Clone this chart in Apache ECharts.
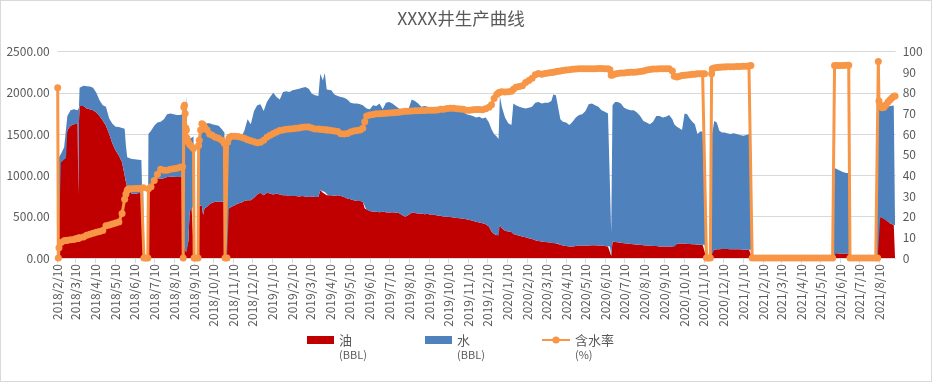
<!DOCTYPE html>
<html>
<head>
<meta charset="utf-8">
<script src="https://cdn.jsdelivr.net/npm/echarts@6/dist/echarts.min.js"></script>
<style>
html,body{margin:0;padding:0;background:#fff;}
#wrap{position:absolute;left:0;top:0;width:930px;height:380px;border:1px solid #d9d9d9;background:#fff;}
#chart{width:930px;height:380px;}
</style>
</head>
<body>
<div id="wrap"><div id="chart"></div></div>
<script>
// ---------------- data ----------------
const chartTitle = 'XXXX井生产曲线';
const seriesNames = ['油', '水', '含水率'];
const seriesUnits = ['(BBL)', '(BBL)', '(%)'];

// days after 2018/2/10
const days = [
  0,1,2,5,10,13,15,20,25,28,
  31,32,33,34,40,45,50,55,60,65,
  70,75,80,85,90,95,100,104,106,108,
  110,115,120,125,130,133,134,137,140,141,
  145,150,155,160,165,170,175,180,185,190,
  194,195,196,197,198,199,200,201,203,205,
  208,211,212,215,218,219,220,222,224,226,
  228,232,236,240,245,250,255,259,260,263,
  264,266,270,275,280,285,290,295,300,305,
  310,315,320,325,330,335,340,345,350,355,
  360,365,370,375,380,385,390,395,400,405,
  408,412,415,418,420,425,430,435,440,445,
  450,455,460,465,470,474,477,480,485,490,
  495,500,505,510,515,520,525,530,535,540,
  545,550,555,560,565,570,575,580,585,590,
  595,600,605,610,615,620,625,630,635,640,
  645,650,655,660,665,670,674,678,682,685,
  687,690,695,700,705,708,712,717,722,727,
  732,737,742,747,752,757,762,767,770,774,
  777,781,785,790,795,800,805,810,815,820,
  825,830,835,840,845,850,855,858,860,862,
  866,870,875,880,885,890,895,900,905,910,
  915,920,925,930,935,940,945,950,955,958,
  962,966,970,974,978,982,986,990,994,998,
  1002,1005,1008,1011,1014,1016,1017,1020,1024,1028,
  1032,1036,1040,1045,1050,1055,1060,1065,1070,1074,
  1077,1079,1084,1089,1094,1099,1104,1109,1114,1119,
  1124,1129,1134,1139,1144,1149,1154,1159,1164,1169,
  1174,1179,1184,1189,1194,1199,1204,1207,1210,1215,
  1220,1225,1229,1231,1236,1241,1246,1251,1256,1261,
  1266,1271,1274,1275,1276,1278,1281,1284,1287,1290,
  1293,1296,1299,1301
];

// 油 (BBL)
const oil = [
  250,0,1140,1160,1200,1210,1550,1600,1620,1620,
  1625,760,1640,1840,1840,1810,1800,1790,1760,1720,
  1665,1600,1500,1385,1300,1240,1160,1000,920,860,
  800,780,778,785,798,798,0,0,0,780,
  830,920,960,960,965,980,985,985,980,980,
  985,0,150,120,100,80,60,100,200,560,
  610,630,0,0,0,640,640,640,630,520,
  600,620,650,670,680,680,680,680,0,0,
  590,600,620,640,660,670,690,700,700,730,
  770,790,760,790,780,770,780,770,760,760,
  750,750,750,745,750,745,740,745,740,740,
  820,790,800,760,760,760,755,760,750,740,
  720,710,700,690,690,680,600,580,570,560,
  560,555,560,555,550,555,550,545,520,500,
  520,550,545,540,540,530,535,520,525,515,
  510,500,500,495,490,485,480,475,470,460,
  450,440,430,420,410,380,320,290,275,270,
  400,360,330,320,315,290,280,270,260,250,
  240,230,215,205,200,195,190,185,180,180,
  175,160,150,145,140,140,145,150,150,150,
  150,155,155,150,150,145,140,140,25,200,
  195,190,185,180,175,170,165,160,160,155,
  150,150,145,145,140,140,140,140,140,135,
  170,175,175,175,170,170,165,165,160,160,
  160,160,0,0,0,100,100,100,105,105,
  110,110,110,105,105,105,105,100,100,100,
  100,0,0,0,0,0,0,0,0,0,
  0,0,0,0,0,0,0,0,0,0,
  0,0,0,0,0,0,0,60,60,55,
  55,55,55,0,0,0,0,0,0,0,
  0,0,0,500,510,500,490,470,460,440,
  420,410,400,395
];

// 水 (BBL)
const water = [
  1165,0,80,100,140,150,170,190,180,170,
  165,1040,180,220,245,270,275,270,240,190,
  185,230,190,240,290,345,415,565,440,360,
  410,420,417,405,387,382,0,0,0,720,
  710,680,680,690,715,760,765,755,750,750,
  755,0,1600,1680,1800,1720,1900,1350,1240,880,
  840,840,0,0,0,840,850,880,930,1080,
  1020,1010,980,950,930,920,880,840,0,0,
  910,900,860,830,810,790,850,980,920,1050,
  1080,1070,1020,1100,1170,1230,1170,1150,1250,1260,
  1260,1280,1290,1305,1310,1325,1310,1245,1230,1220,
  1410,1360,1440,1280,1270,1270,1225,1200,1200,1200,
  1200,1170,1170,1180,1170,1170,1240,1230,1230,1290,
  1280,1315,1240,1325,1340,1315,1290,1265,1280,1310,
  1280,1370,1355,1330,1290,1310,1295,1300,1305,1295,
  1330,1310,1330,1325,1330,1325,1310,1295,1270,1270,
  1270,1260,1280,1270,1290,1260,1240,1210,1195,1170,
  1560,1470,1370,1310,1295,1580,1570,1560,1560,1560,
  1580,1600,1665,1685,1670,1685,1690,1715,1800,1790,
  1775,1520,1500,1495,1470,1510,1555,1580,1590,1630,
  1710,1715,1695,1680,1640,1625,1610,1600,275,1650,
  1695,1700,1685,1640,1625,1620,1625,1600,1560,1505,
  1490,1470,1505,1575,1580,1560,1570,1590,1540,1485,
  1420,1395,1375,1575,1570,1520,1485,1455,1340,1370,
  1370,1360,0,0,0,2060,1400,1560,1535,1435,
  1410,1410,1400,1395,1405,1395,1385,1380,1390,1400,
  1450,0,0,0,0,0,0,0,0,0,
  0,0,0,0,0,0,0,0,0,0,
  0,0,0,0,0,0,0,1030,1020,1005,
  985,975,975,0,0,0,0,0,0,0,
  0,0,0,1290,1290,1300,1320,1350,1370,1395,
  1420,1430,1445,1435
];

// 含水率 (%)
const waterCut = [
  82.4,0,5,7.5,8.3,8.5,8.6,8.8,9.0,9.3,
  9.5,9.6,9.7,9.8,10.2,11,11.5,12,12.5,12.8,
  13.3,15.6,16,16.5,17,17.4,21.5,28.5,31,32.8,
  33.5,33.5,33.6,33.7,33.8,34,0,0,0,33.5,
  34.5,37.5,40.5,43,42.5,42.5,43,43.2,43.5,44,
  44.2,0,73,74,70,63,62,58,56,55,
  54,53,0,0,0,54.5,57,62,65,64.5,
  63.5,62,60,59.5,58.5,58,57,55.5,0,0,
  56,58,59,59,58.8,58.5,58,57.3,56.8,56.3,
  55.8,56,57,58.5,59.5,60.3,61,61.7,62,62.3,
  62.5,62.6,62.8,63,63.3,63.4,63.4,63,62.5,62.5,
  62.3,62.2,62.1,62,62,61.8,61.5,61.3,60.2,60,
  60.3,61,61.5,61.8,62,62.8,66,68.8,69.2,69.5,
  69.8,69.9,70,70.1,70.2,70.3,70.5,70.6,70.8,71.1,
  71.1,71.2,71.3,71.3,71.4,71.4,71.5,71.5,71.5,71.7,
  72,72,72.4,72.5,72.5,72.3,72.1,72,71.6,71.5,
  71.8,71.9,71.9,71.8,72.3,73,74.2,77.2,79.2,80,
  80.3,80.5,80.4,80.5,80.8,81.7,82.7,83,83.4,85,
  86,87,88.8,89.3,89,89.4,89.6,89.8,90,90.2,
  90.4,90.6,90.8,91,91.2,91.4,91.5,91.6,91.6,91.7,
  91.7,91.7,91.7,91.8,91.8,91.7,91.6,91.2,88.5,88.6,
  89.1,89.4,89.6,89.6,89.8,89.9,90,90.1,90.3,90.6,
  91,91.3,91.5,91.5,91.6,91.6,91.6,91.6,90.5,88,
  87.6,88,88.4,88.5,88.6,88.8,89,89,89.2,89.2,
  89.2,89.2,0,0,0,89.2,91.6,92,92.3,92.4,
  92.5,92.5,92.6,92.6,92.6,92.7,92.7,92.8,92.8,93,
  93.2,0,0,0,0,0,0,0,0,0,
  0,0,0,0,0,0,0,0,0,0,
  0,0,0,0,0,0,0,93.2,93.2,93.2,
  93.2,93.3,93.3,0,0,0,0,0,0,0,
  0,0,0,95.2,76,74,72.8,73,74.2,75.5,
  76.5,77.5,78.3,78.5
];

const xTickLabels = [
  '2018/2/10','2018/3/10','2018/4/10','2018/5/10','2018/6/10','2018/7/10','2018/8/10','2018/9/10',
  '2018/10/10','2018/11/10','2018/12/10','2019/1/10','2019/2/10','2019/3/10','2019/4/10','2019/5/10',
  '2019/6/10','2019/7/10','2019/8/10','2019/9/10','2019/10/10','2019/11/10','2019/12/10','2020/1/10',
  '2020/2/10','2020/3/10','2020/4/10','2020/5/10','2020/6/10','2020/7/10','2020/8/10','2020/9/10',
  '2020/10/10','2020/11/10','2020/12/10','2021/1/10','2021/2/10','2021/3/10','2021/4/10','2021/5/10',
  '2021/6/10','2021/7/10','2021/8/10'
];
const xStartDay = 0;
const xEndDay = 1302;

// ---------------- chart ----------------
const FONT = '"Noto Sans CJK SC", "Noto Sans", sans-serif';
const TEXT = '#595959';
const DAY_MS = 86400000;
const startUTC = Date.UTC(2018, 1, 10);
const toTime = d => startUTC + d * DAY_MS;
const tickDays = xTickLabels.map(s => {
  const p = s.split('/').map(Number);
  return Math.round((Date.UTC(p[0], p[1] - 1, p[2]) - startUTC) / DAY_MS);
});
const labelByDay = {};
tickDays.forEach((d, i) => { labelByDay[d] = xTickLabels[i]; });

const oilData = days.map((d, i) => [toTime(d), oil[i]]);
const waterData = days.map((d, i) => [toTime(d), water[i]]);
const cutData = days.map((d, i) => [toTime(d), waterCut[i]]);

function legendFor(idx, left, w, h, icon) {
  const item = icon ? { name: seriesNames[idx], icon: icon } : { name: seriesNames[idx] };
  const lg = {
    left: left, top: 318, padding: 0, itemGap: 0,
    itemWidth: w, itemHeight: h, selectedMode: false,
    data: [item],
    formatter: n => '{e| }\n{n|' + n + '}\n{u|' + seriesUnits[idx] + '}',
    textStyle: {
      color: TEXT, fontFamily: FONT,
      rich: {
        e: { fontSize: 12, lineHeight: 15 },
        n: { fontSize: 13, lineHeight: 15, color: TEXT, fontFamily: FONT },
        u: { fontSize: 11, lineHeight: 15, color: TEXT, fontFamily: FONT }
      }
    }
  };
  if (icon) lg.itemStyle = { borderWidth: 0 };
  return lg;
}

const chart = echarts.init(document.getElementById('chart'));
chart.setOption({
  animation: false,
  backgroundColor: '#fff',
  textStyle: { fontFamily: FONT },
  title: {
    text: chartTitle, left: 455, top: 4, textAlign: 'center',
    textStyle: { fontSize: 17.5, fontWeight: 'normal', color: TEXT, fontFamily: FONT }
  },
  legend: [
    legendFor(0, 306, 27, 8, 'rect'),
    legendFor(1, 424, 27, 8, 'rect'),
    legendFor(2, 540, 28, 9, null)
  ],
  grid: { left: 56.7, right: 35.3, top: 50.5, bottom: 123 },
  xAxis: [
    {
      // time axis that carries the series (its own ticks/labels hidden)
      type: 'time',
      min: toTime(xStartDay), max: toTime(xEndDay),
      axisLine: { show: false }, axisTick: { show: false },
      axisLabel: { show: false }, splitLine: { show: false }
    },
    {
      // day-count axis over the same span that shows the month ticks and labels
      type: 'value', position: 'bottom',
      min: xStartDay, max: xEndDay,
      axisLine: { show: true, onZero: false, lineStyle: { color: '#d9d9d9', width: 1 } },
      axisTick: { show: true, customValues: tickDays, length: 5, lineStyle: { color: '#d9d9d9' } },
      axisLabel: {
        customValues: tickDays, rotate: 90, margin: 6,
        color: TEXT, fontSize: 12, fontFamily: FONT,
        formatter: v => labelByDay[Math.round(v)] || ''
      },
      splitLine: { show: false }
    }
  ],
  yAxis: [
    {
      type: 'value', min: 0, max: 2500, interval: 500,
      axisLine: { show: false }, axisTick: { show: false },
      axisLabel: { color: TEXT, fontSize: 12, margin: 8, fontFamily: FONT, formatter: v => v.toFixed(2) },
      splitLine: { lineStyle: { color: '#d9d9d9', width: 1 } }
    },
    {
      type: 'value', min: 0, max: 100, interval: 10, position: 'right',
      axisLine: { show: false }, axisTick: { show: false },
      axisLabel: { color: TEXT, fontSize: 12, margin: 7, fontFamily: FONT },
      splitLine: { show: false }
    }
  ],
  series: [
    {
      name: seriesNames[0], type: 'line', stack: 'prod', data: oilData,
      xAxisIndex: 0, yAxisIndex: 0,
      symbol: 'none', showSymbol: false,
      lineStyle: { width: 0, color: '#C00000' },
      itemStyle: { color: '#C00000' },
      areaStyle: { color: '#C00000', opacity: 1 },
      z: 2
    },
    {
      name: seriesNames[1], type: 'line', stack: 'prod', data: waterData,
      xAxisIndex: 0, yAxisIndex: 0,
      symbol: 'none', showSymbol: false,
      lineStyle: { width: 0, color: '#4F81BD' },
      itemStyle: { color: '#4F81BD' },
      areaStyle: { color: '#4F81BD', opacity: 1 },
      z: 2
    },
    {
      name: seriesNames[2], type: 'line', data: cutData,
      xAxisIndex: 0, yAxisIndex: 1,
      symbol: 'circle', symbolSize: 7, showSymbol: true, clip: false,
      lineStyle: { width: 3, color: '#F79646' },
      itemStyle: { color: '#F79646', borderWidth: 0 },
      z: 5
    }
  ]
});
</script>
</body>
</html>
